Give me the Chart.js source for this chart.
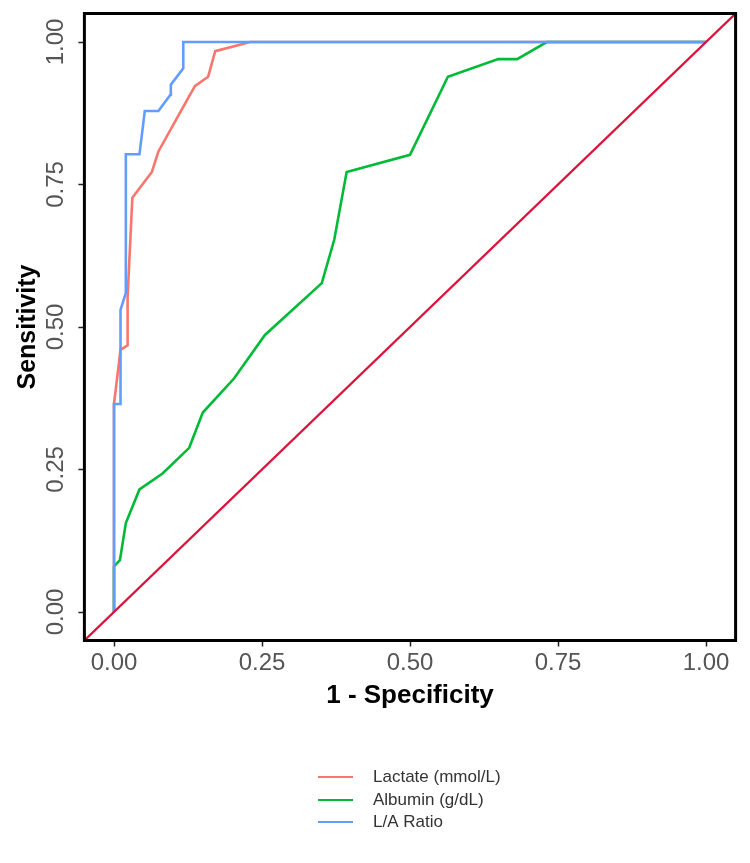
<!DOCTYPE html>
<html>
<head>
<meta charset="utf-8">
<script src="https://cdn.jsdelivr.net/npm/chart.js@4"></script>
<style>
  html, body { margin: 0; padding: 0; background: #ffffff; }
  #wrap { width: 750px; height: 863px; position: relative; }
</style>
</head>
<body>
<div id="wrap"><canvas id="c" width="750" height="863"></canvas></div>
<script>
// ---- data ----
const seriesNames = ['Lactate (mmol/L)', 'Albumin (g/dL)', 'L/A Ratio'];
const seriesColors = ['#F8766D', '#00BA38', '#619CFF'];

const lactateFpr = [0, 0, 0.011, 0.023, 0.023, 0.031, 0.064, 0.075, 0.128, 0.137, 0.159, 0.171, 0.23, 1];
const lactateTpr = [0, 0.365, 0.46, 0.468, 0.553, 0.727, 0.772, 0.808, 0.907, 0.923, 0.939, 0.984, 1, 1];

const albuminFpr = [0, 0, 0.01, 0.02, 0.043, 0.082, 0.127, 0.150, 0.203, 0.255, 0.351, 0.372, 0.393, 0.5, 0.564, 0.649, 0.681, 0.731, 1];
const albuminTpr = [0, 0.08, 0.091, 0.156, 0.215, 0.243, 0.288, 0.350, 0.41, 0.486, 0.577, 0.653, 0.772, 0.802, 0.939, 0.97, 0.97, 1, 1];

const ratioFpr = [0, 0, 0.011, 0.011, 0.02, 0.02, 0.043, 0.052, 0.075, 0.095, 0.096, 0.117, 0.117, 1];
const ratioTpr = [0, 0.365, 0.365, 0.53, 0.56, 0.803, 0.803, 0.879, 0.879, 0.907, 0.925, 0.954, 1, 1];

const refLineX = [-0.05, 1.05];
const refLineY = [-0.05, 1.05];

const tickValues = [0, 0.25, 0.5, 0.75, 1];
const tickLabels = ['0.00', '0.25', '0.50', '0.75', '1.00'];
const xTitle = '1 - Specificity';
const yTitle = 'Sensitivity';

// ---- helpers ----
const pts = (xs, ys) => xs.map((x, i) => ({ x: x, y: ys[i] }));
const FONT = '"Liberation Sans", Arial, Helvetica, sans-serif';

const boxPlugin = {
  id: 'panelBox',
  afterDraw(chart) {
    const { ctx, chartArea: a } = chart;
    ctx.save();
    ctx.strokeStyle = '#000';
    ctx.lineWidth = 3;
    ctx.strokeRect(a.left, a.top, a.right - a.left, a.bottom - a.top);
    ctx.restore();
  }
};

const legendPlugin = {
  id: 'colLegend',
  afterDraw(chart) {
    const { ctx } = chart;
    ctx.save();
    ctx.font = '17px ' + FONT;
    ctx.textBaseline = 'middle';
    ctx.textAlign = 'left';
    const rows = [777, 800, 822];
    seriesNames.forEach((name, i) => {
      ctx.strokeStyle = seriesColors[i];
      ctx.lineWidth = 2.2;
      ctx.beginPath();
      ctx.moveTo(318, rows[i]);
      ctx.lineTo(353, rows[i]);
      ctx.stroke();
      ctx.fillStyle = '#333';
      ctx.fillText(name, 373, rows[i]);
    });
    ctx.restore();
  }
};

const setTicks = (scale) => { scale.ticks = tickValues.map(v => ({ value: v })); };
const fmt = (v) => { const i = tickValues.indexOf(v); return i >= 0 ? tickLabels[i] : ''; };

new Chart(document.getElementById('c'), {
  type: 'scatter',
  data: {
    datasets: [
      { label: 'Reference', data: pts(refLineX, refLineY), borderColor: '#DC143C', borderWidth: 2.2, showLine: true, pointRadius: 0, order: 0 },
      { label: seriesNames[2], data: pts(ratioFpr, ratioTpr), borderColor: seriesColors[2], borderWidth: 2.6, showLine: true, pointRadius: 0, order: 1 },
      { label: seriesNames[1], data: pts(albuminFpr, albuminTpr), borderColor: seriesColors[1], borderWidth: 2.6, showLine: true, pointRadius: 0, order: 2 },
      { label: seriesNames[0], data: pts(lactateFpr, lactateTpr), borderColor: seriesColors[0], borderWidth: 2.6, showLine: true, pointRadius: 0, order: 3 }
    ]
  },
  options: {
    responsive: false,
    animation: false,
    devicePixelRatio: 1,
    layout: { padding: { left: 0, top: 13.5, right: 14.4, bottom: 142.5 } },
    plugins: { legend: { display: false }, tooltip: { enabled: false } },
    elements: { line: { tension: 0 } },
    scales: {
      x: {
        type: 'linear', min: -0.05, max: 1.05,
        afterBuildTicks: setTicks,
        afterFit: (s) => { s.height = 80; },
        ticks: { callback: fmt, color: '#555', font: { family: FONT, size: 24 }, padding: 2, maxRotation: 0 },
        grid: { display: true, drawOnChartArea: false, drawTicks: true, tickLength: 6, tickColor: '#222', tickWidth: 1.5 },
        border: { display: false },
        title: { display: true, text: xTitle, color: '#000', font: { family: FONT, size: 26, weight: 'bold' }, padding: { top: 0, bottom: 9 } }
      },
      y: {
        type: 'linear', min: -0.05, max: 1.05,
        afterBuildTicks: setTicks,
        afterFit: (s) => { s.width = 84.4; },
        ticks: { callback: fmt, color: '#555', font: { family: FONT, size: 24 }, padding: -1, minRotation: 90, maxRotation: 90, crossAlign: 'center' },
        grid: { display: true, drawOnChartArea: false, drawTicks: true, tickLength: 6, tickColor: '#222', tickWidth: 1.5 },
        border: { display: false },
        title: { display: true, text: yTitle, color: '#000', font: { family: FONT, size: 25, weight: 'bold' }, padding: { top: 13, bottom: 0 } }
      }
    }
  },
  plugins: [boxPlugin, legendPlugin]
});
</script>
</body>
</html>
